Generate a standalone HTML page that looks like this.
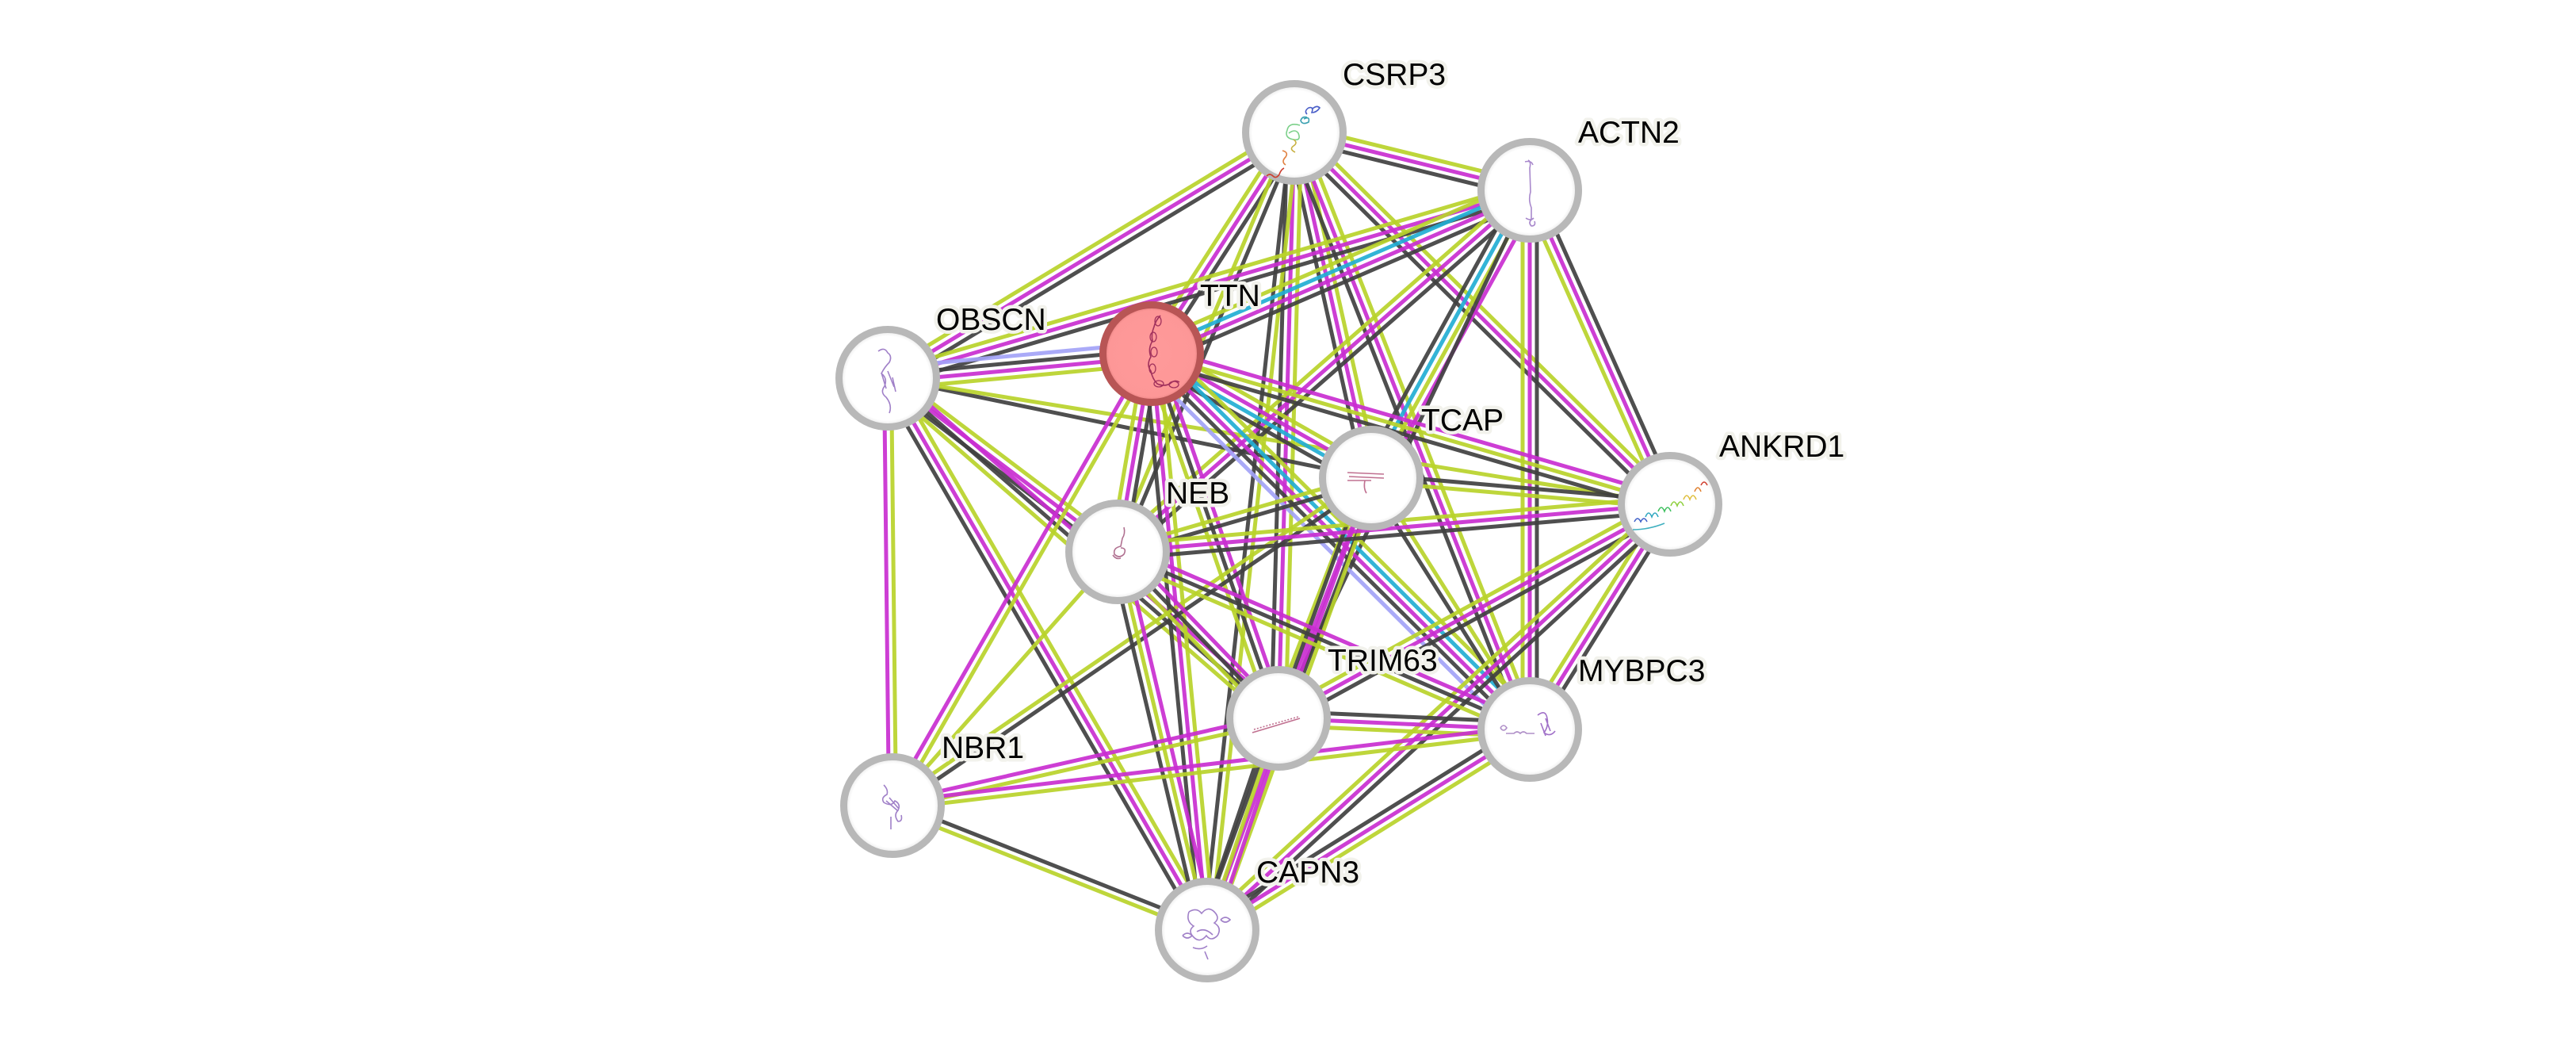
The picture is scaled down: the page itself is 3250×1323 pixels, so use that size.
<!DOCTYPE html>
<html>
<head>
<meta charset="utf-8">
<style>
html,body{margin:0;padding:0;background:#fff;}
svg{display:block;}
line{stroke-width:5;stroke-opacity:0.92;}
.g{stroke:#b9d32a;}
.m{stroke:#c92ed0;}
.k{stroke:#404040;}
.c{stroke:#22aed4;}
.h{stroke:#a3a3f7;}
.node{fill:url(#ng);stroke:#b8b8b8;stroke-width:9;}
.lbl{font-family:"Liberation Sans",Arial,sans-serif;font-size:39px;fill:#000;stroke:#f2f2ec;stroke-width:9px;stroke-linejoin:round;paint-order:stroke;}
.st{fill:none;stroke-width:1.6;}
</style>
</head>
<body>
<svg width="3250" height="1323" viewBox="0 0 3250 1323" xmlns="http://www.w3.org/2000/svg">
<defs>
<radialGradient id="ng" cx="50%" cy="50%" r="50%">
<stop offset="0" stop-color="#ffffff"/>
<stop offset="0.86" stop-color="#ffffff"/>
<stop offset="0.95" stop-color="#ececec"/>
<stop offset="1" stop-color="#d8d8d8"/>
</radialGradient>
<radialGradient id="tg" cx="50%" cy="50%" r="50%">
<stop offset="0" stop-color="#ff9a9a"/>
<stop offset="0.88" stop-color="#fd9797"/>
<stop offset="0.96" stop-color="#e98383"/>
<stop offset="1" stop-color="#c86464"/>
</radialGradient>
</defs>
<rect width="3250" height="1323" fill="#fff"/>

<!-- 1 A-B -->
<line class="g" x1="1633" y1="167" x2="1930" y2="240" transform="translate(2.15,-8.74)"/>
<line class="m" x1="1633" y1="167" x2="1930" y2="240"/>
<line class="k" x1="1633" y1="167" x2="1930" y2="240" transform="translate(-2.15,8.74)"/>
<!-- 2 C-A -->
<line class="g" x1="1120" y1="477" x2="1633" y2="167" transform="translate(-4.65,-7.70)"/>
<line class="m" x1="1120" y1="477" x2="1633" y2="167"/>
<line class="k" x1="1120" y1="477" x2="1633" y2="167" transform="translate(4.65,7.70)"/>
<!-- 3 D-A -->
<line class="g" x1="1453" y1="446" x2="1633" y2="167" transform="translate(-7.56,-4.88)"/>
<line class="m" x1="1453" y1="446" x2="1633" y2="167"/>
<line class="k" x1="1453" y1="446" x2="1633" y2="167" transform="translate(7.56,4.88)"/>
<!-- 4 A-E -->
<line class="g" x1="1633" y1="167" x2="1730" y2="603" transform="translate(8.78,-1.95)"/>
<line class="m" x1="1633" y1="167" x2="1730" y2="603"/>
<line class="k" x1="1633" y1="167" x2="1730" y2="603" transform="translate(-8.78,1.95)"/>
<!-- 5 A-F -->
<line class="g" x1="1633" y1="167" x2="2107" y2="636" transform="translate(6.33,-6.40)"/>
<line class="m" x1="1633" y1="167" x2="2107" y2="636"/>
<line class="k" x1="1633" y1="167" x2="2107" y2="636" transform="translate(-6.33,6.40)"/>
<!-- 6 G-A -->
<line class="g" x1="1410" y1="696" x2="1633" y2="167" transform="translate(-4.15,-1.75)"/>
<line class="k" x1="1410" y1="696" x2="1633" y2="167" transform="translate(4.15,1.75)"/>
<!-- 7 A-H -->
<line class="k" x1="1633" y1="167" x2="1613" y2="906" transform="translate(-9,-0.24)"/>
<line class="m" x1="1633" y1="167" x2="1613" y2="906"/>
<line class="g" x1="1633" y1="167" x2="1613" y2="906" transform="translate(9,0.24)"/>
<!-- 8 A-I -->
<line class="g" x1="1633" y1="167" x2="1930" y2="920" transform="translate(8.37,-3.30)"/>
<line class="m" x1="1633" y1="167" x2="1930" y2="920"/>
<line class="k" x1="1633" y1="167" x2="1930" y2="920" transform="translate(-8.37,3.30)"/>
<!-- 9 A-K -->
<line class="k" x1="1633" y1="167" x2="1523" y2="1173" transform="translate(-4.48,-0.49)"/>
<line class="g" x1="1633" y1="167" x2="1523" y2="1173" transform="translate(4.48,0.49)"/>
<!-- 10 C-B -->
<line class="g" x1="1120" y1="477" x2="1930" y2="240" transform="translate(-2.53,-8.64)"/>
<line class="m" x1="1120" y1="477" x2="1930" y2="240"/>
<line class="k" x1="1120" y1="477" x2="1930" y2="240" transform="translate(2.53,8.64)"/>
<!-- 11 D-B -->
<line class="g" x1="1453" y1="446" x2="1930" y2="240" transform="translate(-5.36,-12.39)"/>
<line class="c" x1="1453" y1="446" x2="1930" y2="240" transform="translate(-1.79,-4.13)"/>
<line class="m" x1="1453" y1="446" x2="1930" y2="240" transform="translate(1.79,4.13)"/>
<line class="k" x1="1453" y1="446" x2="1930" y2="240" transform="translate(5.36,12.39)"/>
<!-- 12 E-B -->
<line class="k" x1="1730" y1="603" x2="1930" y2="240" transform="translate(-11.82,-6.51)"/>
<line class="c" x1="1730" y1="603" x2="1930" y2="240" transform="translate(-3.94,-2.17)"/>
<line class="g" x1="1730" y1="603" x2="1930" y2="240" transform="translate(3.94,2.17)"/>
<line class="m" x1="1730" y1="603" x2="1930" y2="240" transform="translate(11.82,6.51)"/>
<!-- 13 B-F -->
<line class="k" x1="1930" y1="240" x2="2107" y2="636" transform="translate(8.22,-3.67)"/>
<line class="m" x1="1930" y1="240" x2="2107" y2="636"/>
<line class="g" x1="1930" y1="240" x2="2107" y2="636" transform="translate(-8.22,3.67)"/>
<!-- 14 B-I -->
<line class="k" x1="1930" y1="240" x2="1930" y2="920" transform="translate(9,0)"/>
<line class="m" x1="1930" y1="240" x2="1930" y2="920"/>
<line class="g" x1="1930" y1="240" x2="1930" y2="920" transform="translate(-9,0)"/>
<!-- 15 G-B -->
<line class="g" x1="1410" y1="696" x2="1930" y2="240" transform="translate(-5.93,-6.77)"/>
<line class="m" x1="1410" y1="696" x2="1930" y2="240"/>
<line class="k" x1="1410" y1="696" x2="1930" y2="240" transform="translate(5.93,6.77)"/>
<!-- 16 H-B -->
<line class="k" x1="1613" y1="906" x2="1930" y2="240"/>
<!-- 17 C-D -->
<line class="h" x1="1120" y1="477" x2="1453" y2="446" transform="translate(-1.25,-13.44)"/>
<line class="k" x1="1120" y1="477" x2="1453" y2="446" transform="translate(-0.42,-4.48)"/>
<line class="m" x1="1120" y1="477" x2="1453" y2="446" transform="translate(0.42,4.48)"/>
<line class="g" x1="1120" y1="477" x2="1453" y2="446" transform="translate(1.25,13.44)"/>
<!-- 18 C-E -->
<line class="k" x1="1120" y1="477" x2="1730" y2="603"/>
<!-- 19 C-F -->
<line class="g" x1="1120" y1="477" x2="2107" y2="636"/>
<!-- 20 C-G -->
<line class="g" x1="1120" y1="477" x2="1410" y2="696" transform="translate(5.42,-7.18)"/>
<line class="m" x1="1120" y1="477" x2="1410" y2="696"/>
<line class="k" x1="1120" y1="477" x2="1410" y2="696" transform="translate(-5.42,7.18)"/>
<!-- 21 C-H -->
<line class="m" x1="1120" y1="477" x2="1613" y2="906" transform="translate(5.91,-6.79)"/>
<line class="k" x1="1120" y1="477" x2="1613" y2="906"/>
<line class="g" x1="1120" y1="477" x2="1613" y2="906" transform="translate(-5.91,6.79)"/>
<!-- 22 C-J -->
<line class="m" x1="1120" y1="477" x2="1126" y2="1016" transform="translate(-4.5,0.05)"/>
<line class="g" x1="1120" y1="477" x2="1126" y2="1016" transform="translate(4.5,-0.05)"/>
<!-- 23 C-K -->
<line class="g" x1="1120" y1="477" x2="1523" y2="1173" transform="translate(7.79,-4.51)"/>
<line class="m" x1="1120" y1="477" x2="1523" y2="1173"/>
<line class="k" x1="1120" y1="477" x2="1523" y2="1173" transform="translate(-7.79,4.51)"/>
<!-- 24 D-E -->
<line class="g" x1="1453" y1="446" x2="1730" y2="603" transform="translate(6.66,-11.75)"/>
<line class="m" x1="1453" y1="446" x2="1730" y2="603" transform="translate(2.22,-3.92)"/>
<line class="c" x1="1453" y1="446" x2="1730" y2="603" transform="translate(-2.22,3.92)"/>
<line class="k" x1="1453" y1="446" x2="1730" y2="603" transform="translate(-6.66,11.75)"/>
<!-- 25 D-F -->
<line class="m" x1="1453" y1="446" x2="2107" y2="636" transform="translate(2.51,-8.64)"/>
<line class="g" x1="1453" y1="446" x2="2107" y2="636"/>
<line class="k" x1="1453" y1="446" x2="2107" y2="636" transform="translate(-2.51,8.64)"/>
<!-- 26 G-D -->
<line class="g" x1="1410" y1="696" x2="1453" y2="446" transform="translate(-8.87,-1.53)"/>
<line class="m" x1="1410" y1="696" x2="1453" y2="446"/>
<line class="k" x1="1410" y1="696" x2="1453" y2="446" transform="translate(8.87,1.53)"/>
<!-- 27 D-H -->
<line class="m" x1="1453" y1="446" x2="1613" y2="906" transform="translate(8.5,-2.96)"/>
<line class="k" x1="1453" y1="446" x2="1613" y2="906"/>
<line class="g" x1="1453" y1="446" x2="1613" y2="906" transform="translate(-8.5,2.96)"/>
<!-- 28 D-I -->
<line class="g" x1="1453" y1="446" x2="1930" y2="920" transform="translate(12.68,-12.76)"/>
<line class="c" x1="1453" y1="446" x2="1930" y2="920" transform="translate(6.34,-6.38)"/>
<line class="m" x1="1453" y1="446" x2="1930" y2="920"/>
<line class="k" x1="1453" y1="446" x2="1930" y2="920" transform="translate(-6.34,6.38)"/>
<line class="h" x1="1453" y1="446" x2="1930" y2="920" transform="translate(-12.68,12.76)"/>
<!-- 29 J-D -->
<line class="m" x1="1126" y1="1016" x2="1453" y2="446" transform="translate(-3.91,-2.24)"/>
<line class="g" x1="1126" y1="1016" x2="1453" y2="446" transform="translate(3.91,2.24)"/>
<!-- 30 D-K -->
<line class="g" x1="1453" y1="446" x2="1523" y2="1173" transform="translate(8.96,-0.86)"/>
<line class="m" x1="1453" y1="446" x2="1523" y2="1173"/>
<line class="k" x1="1453" y1="446" x2="1523" y2="1173" transform="translate(-8.96,0.86)"/>
<!-- 31 E-F -->
<line class="k" x1="1730" y1="603" x2="2107" y2="636" transform="translate(0.39,-4.48)"/>
<line class="g" x1="1730" y1="603" x2="2107" y2="636" transform="translate(-0.39,4.48)"/>
<!-- 32 G-E -->
<line class="g" x1="1410" y1="696" x2="1730" y2="603" transform="translate(-1.26,-4.32)"/>
<line class="k" x1="1410" y1="696" x2="1730" y2="603" transform="translate(1.26,4.32)"/>
<!-- 33 H-E -->
<line class="g" x1="1613" y1="906" x2="1730" y2="603" transform="translate(-8.4,-3.24)"/>
<line class="m" x1="1613" y1="906" x2="1730" y2="603"/>
<line class="k" x1="1613" y1="906" x2="1730" y2="603" transform="translate(8.4,3.24)"/>
<!-- 34 E-I -->
<line class="g" x1="1730" y1="603" x2="1930" y2="920" transform="translate(3.81,-2.4)"/>
<line class="k" x1="1730" y1="603" x2="1930" y2="920" transform="translate(-3.81,2.4)"/>
<!-- 35 J-E -->
<line class="g" x1="1126" y1="1016" x2="1730" y2="603" transform="translate(-2.54,-3.72)"/>
<line class="k" x1="1126" y1="1016" x2="1730" y2="603" transform="translate(2.54,3.72)"/>
<!-- 36 E-K -->
<line class="g" x1="1730" y1="603" x2="1523" y2="1173" transform="translate(8.46,3.07)"/>
<line class="m" x1="1730" y1="603" x2="1523" y2="1173"/>
<line class="k" x1="1730" y1="603" x2="1523" y2="1173" transform="translate(-8.46,-3.07)"/>
<!-- 37 G-F -->
<line class="g" x1="1410" y1="696" x2="2107" y2="636" transform="translate(-0.77,-8.97)"/>
<line class="m" x1="1410" y1="696" x2="2107" y2="636"/>
<line class="k" x1="1410" y1="696" x2="2107" y2="636" transform="translate(0.77,8.97)"/>
<!-- 38 H-F -->
<line class="g" x1="1613" y1="906" x2="2107" y2="636" transform="translate(-4.32,-7.9)"/>
<line class="m" x1="1613" y1="906" x2="2107" y2="636"/>
<line class="k" x1="1613" y1="906" x2="2107" y2="636" transform="translate(4.32,7.9)"/>
<!-- 39 I-F -->
<line class="g" x1="1930" y1="920" x2="2107" y2="636" transform="translate(-7.64,-4.76)"/>
<line class="m" x1="1930" y1="920" x2="2107" y2="636"/>
<line class="k" x1="1930" y1="920" x2="2107" y2="636" transform="translate(7.64,4.76)"/>
<!-- 40 K-F -->
<line class="g" x1="1523" y1="1173" x2="2107" y2="636" transform="translate(-6.09,-6.62)"/>
<line class="m" x1="1523" y1="1173" x2="2107" y2="636"/>
<line class="k" x1="1523" y1="1173" x2="2107" y2="636" transform="translate(6.09,6.62)"/>
<!-- 41 G-H -->
<line class="m" x1="1410" y1="696" x2="1613" y2="906" transform="translate(6.47,-6.25)"/>
<line class="k" x1="1410" y1="696" x2="1613" y2="906"/>
<line class="g" x1="1410" y1="696" x2="1613" y2="906" transform="translate(-6.47,6.25)"/>
<!-- 42 G-I -->
<line class="m" x1="1410" y1="696" x2="1930" y2="920" transform="translate(3.56,-8.27)"/>
<line class="k" x1="1410" y1="696" x2="1930" y2="920"/>
<line class="g" x1="1410" y1="696" x2="1930" y2="920" transform="translate(-3.56,8.27)"/>
<!-- 43 J-G -->
<line class="g" x1="1126" y1="1016" x2="1410" y2="696"/>
<!-- 44 G-K -->
<line class="m" x1="1410" y1="696" x2="1523" y2="1173" transform="translate(8.76,-2.08)"/>
<line class="g" x1="1410" y1="696" x2="1523" y2="1173"/>
<line class="k" x1="1410" y1="696" x2="1523" y2="1173" transform="translate(-8.76,2.08)"/>
<!-- 45 H-I -->
<line class="k" x1="1613" y1="906" x2="1930" y2="920" transform="translate(0.4,-8.99)"/>
<line class="m" x1="1613" y1="906" x2="1930" y2="920"/>
<line class="g" x1="1613" y1="906" x2="1930" y2="920" transform="translate(-0.4,8.99)"/>
<!-- 46 J-H -->
<line class="m" x1="1126" y1="1016" x2="1613" y2="906" transform="translate(-0.99,-4.39)"/>
<line class="g" x1="1126" y1="1016" x2="1613" y2="906" transform="translate(0.99,4.39)"/>
<!-- 47 H-K -->
<line class="m" x1="1613" y1="906" x2="1523" y2="1173" transform="translate(8.53,2.87)"/>
<line class="g" x1="1613" y1="906" x2="1523" y2="1173"/>
<line class="k" x1="1613" y1="906" x2="1523" y2="1173" transform="translate(-8.53,-2.87)"/>
<!-- 48 J-I -->
<line class="m" x1="1126" y1="1016" x2="1930" y2="920" transform="translate(-0.54,-4.47)"/>
<line class="g" x1="1126" y1="1016" x2="1930" y2="920" transform="translate(0.54,4.47)"/>
<!-- 49 K-I -->
<line class="k" x1="1523" y1="1173" x2="1930" y2="920" transform="translate(-4.75,-7.64)"/>
<line class="m" x1="1523" y1="1173" x2="1930" y2="920"/>
<line class="g" x1="1523" y1="1173" x2="1930" y2="920" transform="translate(4.75,7.64)"/>
<!-- 50 J-K -->
<line class="k" x1="1126" y1="1016" x2="1523" y2="1173" transform="translate(1.66,-4.19)"/>
<line class="g" x1="1126" y1="1016" x2="1523" y2="1173" transform="translate(-1.66,4.19)"/>

<!-- Nodes -->
<circle class="node" cx="1633" cy="167" r="61.5"/>
<circle class="node" cx="1930" cy="240" r="61.5"/>
<circle class="node" cx="1120" cy="477" r="61.5"/>
<circle cx="1453" cy="446" r="61.5" fill="url(#tg)" stroke="#b85555" stroke-width="9"/>
<circle class="node" cx="1730" cy="603" r="61.5"/>
<circle class="node" cx="2107" cy="636" r="61.5"/>
<circle class="node" cx="1410" cy="696" r="61.5"/>
<circle class="node" cx="1613" cy="906" r="61.5"/>
<circle class="node" cx="1930" cy="920" r="61.5"/>
<circle class="node" cx="1126" cy="1016" r="61.5"/>
<circle class="node" cx="1523" cy="1173" r="61.5"/>

<!-- Structure glyphs -->
<!-- CSRP3 rainbow -->
<path class="st" stroke="#4a5fc8" d="M1655,138 q6,-6 10,-2 q-4,6 -10,6 q3,-8 -4,-6 q-6,4 -2,8"/>
<path class="st" stroke="#3aa0b0" d="M1645,150 q8,-4 6,4 q-8,4 -10,-2 q2,-6 8,-4"/>
<path class="st" stroke="#7cd08a" d="M1640,158 q-14,-4 -16,6 q-4,10 8,12 q10,2 6,-8 q-4,-6 -12,0"/>
<path class="st" stroke="#c8b040" d="M1632,176 q6,4 0,8 q-6,4 2,8"/>
<path class="st" stroke="#e08040" d="M1618,190 q8,2 4,8 q-6,6 0,10"/>
<path class="st" stroke="#cc4030" stroke-width="3" d="M1598,222 q4,-4 8,0 q4,4 8,-2 q2,-6 6,-8"/>
<!-- ACTN2 rod -->
<path class="st" stroke="#a888cc" d="M1928,202 q4,2 2,10 l1,30 q-3,10 1,20 l0,15 q-4,4 0,8 q6,0 4,-6"/>
<path class="st" stroke="#a888cc" d="M1924,204 q8,-2 10,4 M1925,275 q6,4 10,0"/>
<!-- OBSCN -->
<path class="st" stroke="#a080c8" d="M1108,443 q8,-6 12,2 q6,4 2,12 q-6,6 -10,14 q8,6 4,16 q-6,8 2,14 q8,10 4,20 M1112,470 l6,20 M1120,468 l8,20 M1126,476 l4,18"/>
<!-- TTN chain -->
<path class="st" stroke="#a0305c" stroke-width="1.8" d="M1464,398 q-6,6 -8,14 q-4,10 -2,18 q-6,10 -2,20 q-6,10 0,18 q2,10 8,16 q8,4 16,0 q6,-6 12,-2"/>
<ellipse cx="1461" cy="405" rx="4" ry="6" fill="none" stroke="#a0305c" stroke-width="1.3"/>
<ellipse cx="1455" cy="425" rx="4" ry="6" fill="none" stroke="#a0305c" stroke-width="1.3"/>
<ellipse cx="1456" cy="444" rx="4" ry="6" fill="none" stroke="#a0305c" stroke-width="1.3"/>
<ellipse cx="1454" cy="465" rx="4" ry="6" fill="none" stroke="#a0305c" stroke-width="1.3"/>
<ellipse cx="1462" cy="484" rx="6" ry="4" fill="none" stroke="#a0305c" stroke-width="1.3"/>
<ellipse cx="1481" cy="485" rx="6" ry="4" fill="none" stroke="#a0305c" stroke-width="1.3"/>
<!-- TCAP -->
<path class="st" stroke="#c07090" stroke-width="2" d="M1700,596 l46,2 M1702,601 l44,2 M1700,606 l30,0 M1722,606 q-2,10 2,16"/>
<!-- ANKRD1 rainbow helices -->
<path class="st" stroke="#4060c8" stroke-width="3" d="M2062,658 q4,-8 8,0 q4,-8 8,0"/>
<path class="st" stroke="#30a8c0" stroke-width="3" d="M2076,652 q4,-10 8,0 q4,-10 8,0"/>
<path class="st" stroke="#40c060" stroke-width="3" d="M2092,645 q4,-10 8,0 q4,-10 8,0"/>
<path class="st" stroke="#90d040" stroke-width="3" d="M2108,638 q4,-10 8,0 q4,-10 8,0"/>
<path class="st" stroke="#e0c040" stroke-width="3" d="M2124,630 q4,-10 8,0 q4,-10 8,0"/>
<path class="st" stroke="#e08030" stroke-width="3" d="M2138,620 q4,-10 8,0"/>
<path class="st" stroke="#d04030" stroke-width="3" d="M2146,612 q4,-8 8,0"/>
<path class="st" stroke="#40b0c0" d="M2060,668 q20,0 40,-8"/>
<!-- NEB -->
<path class="st" stroke="#b07090" d="M1418,665 q2,8 -2,14 l-2,10 q-10,2 -8,10 q6,6 12,0 q4,-8 -4,-8 M1404,700 q4,6 10,4"/>
<!-- TRIM63 -->
<path class="st" stroke="#c07090" stroke-width="4" stroke-dasharray="2 2" d="M1582,920 l56,-16"/>
<path class="st" stroke="#c07090" d="M1580,924 l60,-18"/>
<!-- MYBPC3 -->
<path class="st" stroke="#b090c8" d="M1893,918 q4,-6 8,0 q-4,6 -8,0 M1900,925 l10,0 q4,-4 8,0 q4,-4 8,0 l10,0"/>
<path class="st" stroke="#a070c8" d="M1940,902 q10,-8 12,4 q2,10 -4,18 q8,6 14,-2 M1944,912 l6,16 M1950,906 l6,16"/>
<!-- NBR1 -->
<path class="st" stroke="#a080c8" d="M1115,990 q6,6 4,12 q-8,4 -4,10 q10,6 14,-2 q8,4 4,12 q-6,6 0,14 q6,0 4,-8 M1118,1010 l14,12 M1122,1006 l12,14 M1124,1030 l0,16"/>
<!-- CAPN3 -->
<path class="st" stroke="#a080c8" d="M1500,1150 q10,-6 16,2 q8,-10 16,-2 q8,8 0,14 q10,6 4,16 q-8,8 -14,0 q-8,10 -16,2 q-8,-8 0,-14 q-10,-6 -6,-18 M1492,1180 q6,-6 12,0 q-6,6 -12,0 M1540,1160 q6,-6 12,0 q-6,6 -12,0 M1510,1175 q10,-6 20,4 M1505,1195 q10,4 18,-2 M1520,1200 l4,10"/>

<!-- Labels -->
<text class="lbl" x="1694" y="107">CSRP3</text>
<text class="lbl" x="1991" y="180">ACTN2</text>
<text class="lbl" x="1181" y="416">OBSCN</text>
<text class="lbl" x="1514" y="386">TTN</text>
<text class="lbl" x="1793" y="543">TCAP</text>
<text class="lbl" x="2169" y="576">ANKRD1</text>
<text class="lbl" x="1471" y="635">NEB</text>
<text class="lbl" x="1675" y="846">TRIM63</text>
<text class="lbl" x="1991" y="859">MYBPC3</text>
<text class="lbl" x="1188" y="956">NBR1</text>
<text class="lbl" x="1585" y="1113">CAPN3</text>
</svg>
</body>
</html>
